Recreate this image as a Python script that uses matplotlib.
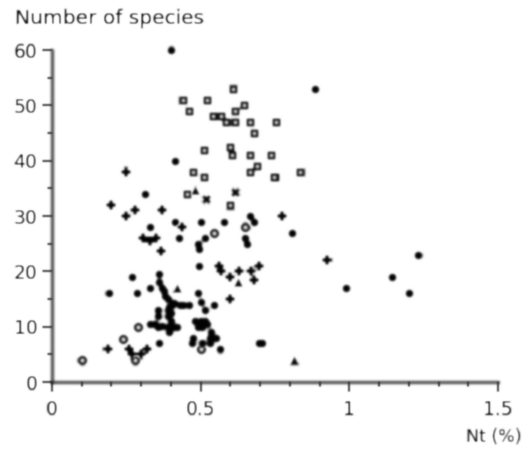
import numpy as np
import matplotlib
matplotlib.use('Agg')
import matplotlib.pyplot as plt

# open squares
sq_x = [0.44, 0.52, 0.46, 0.61, 0.54, 0.57, 0.585, 0.615, 0.665, 0.755, 0.68, 0.615, 0.645, 0.51, 0.60, 0.605, 0.665,
        0.735, 0.69, 0.665, 0.75, 0.475, 0.51, 0.835, 0.453, 0.60, 0.745]
sq_y = [51, 51, 49, 53, 48, 48, 47, 47, 47, 47, 45, 49, 50, 42, 42.5, 41, 41,
        41, 39, 38, 37, 38, 37, 38, 34, 32, 37]

# filled circles
fc_x = [0.40, 0.413, 0.886, 0.807, 0.99, 1.145, 1.2, 1.23, 0.192, 0.287, 0.313, 0.33, 0.413, 0.428, 0.5, 0.58,
        0.665, 0.68, 0.36, 0.36, 0.33, 0.37, 0.38, 0.39, 0.405, 0.43, 0.46, 0.355, 0.39, 0.39, 0.355, 0.33, 0.355,
        0.39, 0.42, 0.395, 0.49, 0.5, 0.515, 0.545, 0.36, 0.48, 0.515, 0.49, 0.52, 0.535, 0.55, 0.475, 0.47, 0.505,
        0.53, 0.565, 0.695, 0.705, 0.493, 0.49, 0.515, 0.495, 0.65, 0.655, 0.268,
        0.375, 0.395, 0.40, 0.40, 0.345, 0.37, 0.41, 0.44, 0.41, 0.50, 0.505, 0.53]
fc_y = [60, 40, 53, 27, 17, 19, 16, 23, 16, 16, 34, 28, 29, 26, 29, 29,
        30, 29, 19.5, 18, 17, 17, 15.5, 15, 14, 14, 14, 13, 13, 12, 12, 10.5, 10,
        10, 10, 9, 16, 14.5, 13, 14, 7, 11, 11, 10, 10.5, 9, 8, 8, 7, 7,
        7, 6, 7, 7, 21, 25, 26, 24, 26, 25, 19,
        16.5, 13.5, 12.5, 11, 10.5, 10.2, 10, 14, 14.2, 11, 10, 8]

# plus signs
pl_x = [0.25, 0.25, 0.28, 0.2, 0.37, 0.775, 0.925, 0.436, 0.306, 0.33, 0.35, 0.365, 0.56, 0.57, 0.6, 0.63, 0.67,
        0.695, 0.68, 0.6, 0.19, 0.26, 0.27, 0.3, 0.32]
pl_y = [38, 30, 31, 32, 31, 30, 22, 28, 26, 25.5, 26, 23.7, 21, 20, 19, 20, 20,
        21, 18.5, 15, 6, 6, 5, 5, 6]

# triangles
tr_x = [0.48, 0.813, 0.625, 0.42]
tr_y = [34.7, 4, 18, 17]

# crosses
cr_x = [0.517, 0.615]
cr_y = [33, 34.4]

# open circles
oc_x = [0.10, 0.29, 0.24, 0.50, 0.28, 0.545, 0.65]
oc_y = [4, 10, 7.8, 6, 4, 27, 28]

x_ticks = [0, 0.5, 1, 1.5]
x_labels = ['0', '0.5', '1', '1.5']
y_ticks = [0, 10, 20, 30, 40, 50, 60]

plt.rcParams['font.family'] = ['DejaVu Sans']
ink = '#000000'


# the reference is a soft, low-res scan
def soften(img, dpi):
    pad = 4
    out = np.pad(img, ((pad, pad), (pad, pad), (0, 0)))
    k = np.exp(-np.arange(-pad, pad + 1) ** 2 / (2 * 0.9 ** 2))
    k = k / k.sum()
    out = np.apply_along_axis(lambda v: np.convolve(v, k, mode='same'), 0, out)
    out = np.apply_along_axis(lambda v: np.convolve(v, k, mode='same'), 1, out)
    return out, -pad, -pad


fig = plt.figure(figsize=(5.24, 4.5), dpi=100)
ax = fig.add_axes([52 / 524, 1 - 382 / 450, (498 - 52) / 524, (382 - 50) / 450])

ax.scatter(sq_x, sq_y, marker='s', s=24, facecolors='white', edgecolors=ink, linewidths=1.9, clip_on=False)
ax.scatter(oc_x, oc_y, marker='o', s=26, facecolors='white', edgecolors=ink, linewidths=1.9, clip_on=False)
ax.scatter(fc_x, fc_y, marker='o', s=34, color=ink, linewidths=0, clip_on=False)
ax.scatter(pl_x, pl_y, marker='P', s=58, color=ink, linewidths=0, clip_on=False)
ax.scatter(tr_x, tr_y, marker='^', s=42, color=ink, linewidths=0, clip_on=False)
ax.scatter(cr_x, cr_y, marker='X', s=46, color=ink, linewidths=0, clip_on=False)

ax.set_xlim(0, 1.5)
ax.set_ylim(0, 60)
ax.spines['top'].set_visible(False)
ax.spines['right'].set_visible(False)
ax.spines['left'].set_linewidth(1.8)
ax.spines['bottom'].set_linewidth(1.8)
ax.spines['left'].set_color('#333333')
ax.spines['bottom'].set_color('#333333')

ax.set_xticks(x_ticks)
ax.set_xticklabels(x_labels)
ax.set_yticks(y_ticks)
ax.set_xticks(np.arange(0, 1.51, 0.1), minor=True)
ax.set_yticks(np.arange(0, 61, 5), minor=True)
ax.tick_params(axis='both', which='major', length=7, width=1.5, color='#333333', labelsize=13.5, labelcolor=ink)
ax.tick_params(axis='both', which='minor', length=3.5, width=1.5, color='#333333')
ax.tick_params(axis='x', which='major', pad=6)
ax.tick_params(axis='y', which='major', pad=3.5)

title = fig.text(15 / 524, 1 - 19 / 450, 'Number of species', fontsize=14.5, color=ink, va='center', ha='left')
xname = fig.text(522 / 524, 1 - 437 / 450, 'Nt (%)', fontsize=12.5, color=ink, va='center', ha='right')

for art in list(ax.collections) + list(ax.spines.values()) + [ax.xaxis, ax.yaxis, title, xname]:
    art.set_agg_filter(soften)

fig.savefig('out.png', dpi=100)
